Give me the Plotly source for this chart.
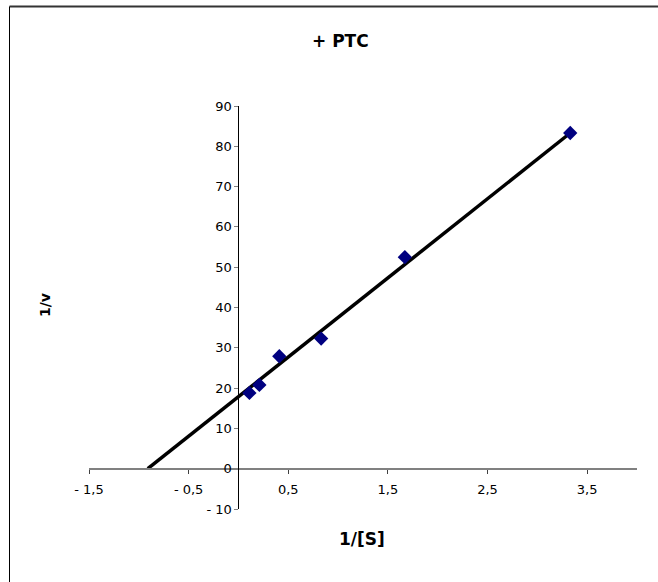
import plotly.graph_objects as go

# Data
inv_s = [0.11, 0.21, 0.41, 0.83, 1.67, 3.33]
inv_v = [18.8, 20.8, 27.9, 32.3, 52.5, 83.3]

# Regression line endpoints (x-intercept to last point)
line_x = [-0.91, 3.33]
line_y = [0.0, 83.3]

x_tickvals = [-1.5, -0.5, 0.5, 1.5, 2.5, 3.5]
x_ticktext = ["- 1,5", "- 0,5", "0,5", "1,5", "2,5", "3,5"]
y_tickvals = [-10, 0, 10, 20, 30, 40, 50, 60, 70, 80, 90]
y_ticktext = ["- 10", "0", "10", "20", "30", "40", "50", "60", "70", "80", "90"]

X_RANGE = [-1.5, 4.0]
Y_RANGE = [-10, 90]

W, H = 658, 582
L, R, T, B = 89, 21, 106, 73
pw = W - L - R
ph = H - T - B

fig = go.Figure()
fig.add_trace(go.Scatter(x=line_x, y=line_y, mode="lines",
                         line=dict(color="black", width=3.5), showlegend=False,
                         hoverinfo="skip"))
fig.add_trace(go.Scatter(x=inv_s, y=inv_v, mode="markers",
                         marker=dict(symbol="diamond", size=11, color="#000080",
                                     line=dict(width=0)),
                         showlegend=False))

font = dict(family="DejaVu Sans, sans-serif", size=13, color="black")

fig.update_layout(
    width=W, height=H,
    margin=dict(l=L, r=R, t=T, b=B),
    paper_bgcolor="white", plot_bgcolor="white",
    font=font,
    xaxis=dict(range=X_RANGE, showgrid=False, zeroline=False,
               showline=True, linecolor="#808080", linewidth=2,
               anchor="free", position=(0 - Y_RANGE[0]) / (Y_RANGE[1] - Y_RANGE[0]),
               tickmode="array", tickvals=x_tickvals, ticktext=x_ticktext,
               ticks="outside", ticklen=4, tickcolor="#404040", tickwidth=1,
               ticklabelstandoff=5, tickfont=font),
    yaxis=dict(range=Y_RANGE, showgrid=False, zeroline=False,
               showline=True, linecolor="black", linewidth=1,
               anchor="free", position=(0 - X_RANGE[0]) / (X_RANGE[1] - X_RANGE[0]),
               tickmode="array", tickvals=y_tickvals, ticktext=y_ticktext,
               ticks="outside", ticklen=4, tickcolor="#808080", tickwidth=1,
               tickfont=font),
)

def px_x(p):
    return (p - L) / pw

def px_y(p):
    return (H - B - p) / ph

# Chart border (left and top)
fig.add_shape(type="line", xref="paper", yref="paper",
              x0=px_x(9.5), x1=px_x(660), y0=px_y(6.5), y1=px_y(6.5),
              line=dict(color="#333333", width=2))
fig.add_shape(type="line", xref="paper", yref="paper",
              x0=px_x(9.5), x1=px_x(9.5), y0=px_y(6.5), y1=px_y(590),
              line=dict(color="black", width=1))

bold = dict(family="DejaVu Sans", size=17, color="black", weight="bold")
bold_small = dict(family="DejaVu Sans", size=14, color="black", weight="bold")
fig.add_annotation(text="+ PTC", xref="paper", yref="paper",
                   x=px_x(340), y=px_y(41), xanchor="center", yanchor="middle",
                   showarrow=False, font=bold)
fig.add_annotation(text="1/[S]", xref="paper", yref="paper",
                   x=px_x(362), y=px_y(539), xanchor="center", yanchor="middle",
                   showarrow=False, font=bold)
fig.add_annotation(text="<b>1/v</b>", xref="paper", yref="paper",
                   x=px_x(45), y=px_y(305), xanchor="center", yanchor="middle",
                   showarrow=False, font=bold_small, textangle=-90)

fig.write_html("out.html")
